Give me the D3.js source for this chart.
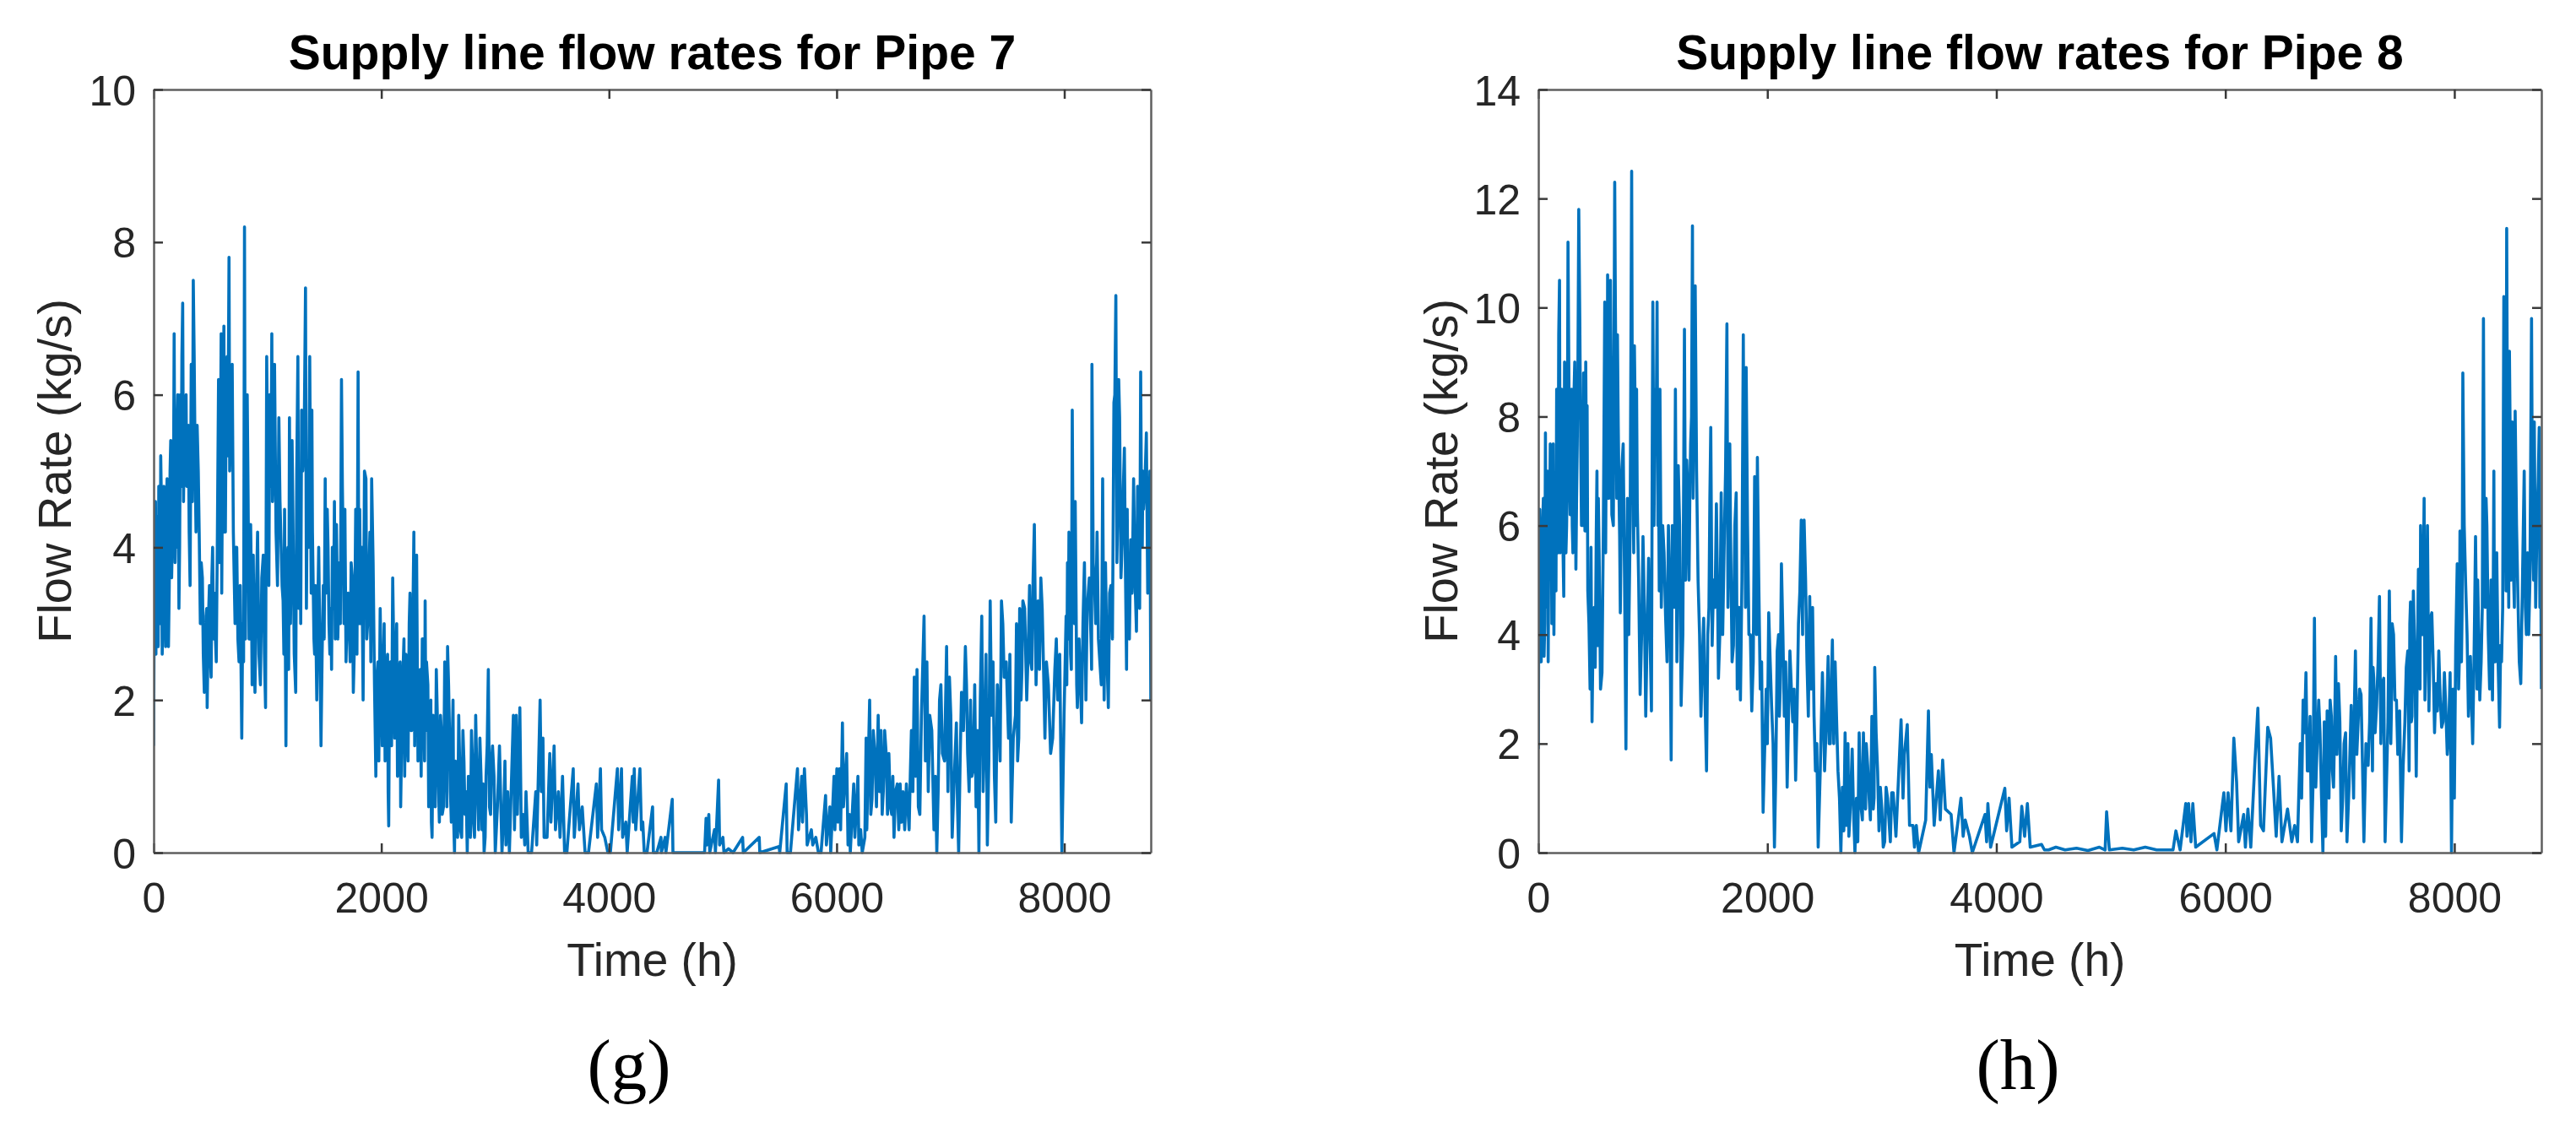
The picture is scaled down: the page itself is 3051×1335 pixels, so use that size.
<!DOCTYPE html>
<html>
<head>
<meta charset="utf-8">
<script src="https://cdn.jsdelivr.net/npm/d3@7"></script>
<style>
body { margin: 0; background: #fff; }
text { font-family: "Liberation Sans", Arial, sans-serif; }
</style>
</head>
<body>
<div id="graphDiv"></div>
<script>
// x axis ticks (hours) and y ticks for each panel
var xTicks = [0, 2000, 4000, 6000, 8000];
var yTicks7 = [0, 2, 4, 6, 8, 10];
var yTicks8 = [0, 2, 4, 6, 8, 10, 12, 14];

// Pipe 7: time (h) and flow rate (kg/s), peaks and troughs
var t7 = [0,8,20,30,40,62,75,90,105,118,130,150,165,180,195,205,222,235,255,270,285,295,320,348,365,382,400,428,445,460,470,490,505,518,535,550,570,585,593,605,617,630,645,662,675,690,715,730,750,774,790,798,815,830,845,852,865,875,890,913,938,963,983,993,1005,1020,1030,1038,1050,1062,1075,1100,1120,1137,1150,1162,1180,1193,1210,1223,1248,1267,1285,1300,1310,1334,1350,1371,1384,1395,1408,1420,1433,1440,1470,1490,1507,1520,1525,1540,1557,1570,1582,1595,1606,1630,1650,1665,1680,1700,1717,1735,1754,1775,1796,1810,1828,1840,1865,1880,1900,1915,1940,1952,1970,1990,2015,2025,2040,2055,2065,2080,2100,2125,2135,2150,2165,2175,2199,2224,2245,2260,2286,2300,2310,2335,2360,2375,2385,2397,2421,2435,2446,2465,2483,2500,2520,2535,2557,2570,2582,2600,2615,2630,2643,2660,2680,2695,2717,2735,2755,2775,2792,2810,2829,2845,2866,2885,2903,2920,2940,2960,2977,3001,3020,3038,3060,3075,
  3086,3095,3110,3125,3160,3170,3185,3195,3217,3230,3246,3260,3271,3290,3320,3357,3365,3395,3405,3420,3430,3456,3480,3490,3518,3530,3555,3570,3592,3610,3630,3686,3695,3728,3740,3765,3790,3820,3889,3900,3925,3935,3963,3990,4012,4074,4085,4110,4120,4148,4160,4205,4213,4222,4235,4272,4285,4297,4310,4334,4383,4390,4420,4457,4460,4494,4500,4556,4562,4600,4840,4853,4860,4877,4885,4927,4935,4963,4972,5001,5010,5050,5090,5174,5180,5320,5325,5495,5500,5557,5565,5594,5656,5665,5693,5700,5717,5735,5741,5778,5790,5817,5840,5863,5903,5910,5940,5948,5977,5985,6002,6010,6026,6035,6051,6060,6088,6100,6113,6120,6150,6160,6187,6195,6211,6225,6248,6259,6265,6290,6300,
  6311,6336,6365,6390,6410,6435,6459,6484,6504,6533,6558,6583,6613,6637,6657,6682,6706,6731,6768,6793,6818,6855,6880,6904,6929,6966,6991,7015,7052,7072,7097,7131,7151,7176,7201,7225,7250,7275,7300,7324,7349,7374,7398,7425,7448,7472,7510,7534,7571,7590,7608,7620,7636,7670,7695,7715,7737,7769,7794,7818,7843,7880,7917,7942,7979,8016,8028,8041,8055,8070,8090,8103,8115,8152,8177,8201,8238,8243,8265,8288,8325,8337,8362,8387,8410,8436,8453,8470,8486,8510,8528,8547,8560,8584,8609,8634,8654,8671,8685,8696,8721,8745,8752,8760];
var q7 = [1.4,4.5,2.6,4.4,2.7,5.2,2.6,4.8,2.7,4.9,2.7,5.4,4.2,6.8,4.5,5.5,3.2,6.0,7.2,5.5,6.0,5.3,3.5,7.5,5.0,5.6,4.2,3.6,2.1,3.1,1.9,3.5,2.3,4.0,3.4,2.5,6.2,5.0,6.8,5.2,6.9,4.2,6.5,7.8,5.5,6.4,3.0,4.0,2.5,1.5,2.5,8.2,5.0,4.6,2.8,4.3,2.2,3.9,2.1,4.2,2.2,3.9,1.9,6.5,4.5,6.0,4.8,6.8,5.0,6.4,4.2,5.7,4.0,3.3,4.5,1.4,4.0,5.7,4.0,4.5,2.1,6.5,4.5,5.8,5.0,7.4,5.0,6.5,3.4,4.2,2.8,3.5,2.0,3.0,1.4,3.5,4.9,3.5,4.5,3.0,3.2,4.0,3.5,2.8,4.3,3.8,6.2,4.0,4.5,3.2,3.0,3.8,2.1,4.5,6.3,4.5,4.0,2.0,4.9,3.0,4.2,4.9,2.2,1.0,2.5,3.2,2.4,3.0,1.5,2.6,0.35,2.5,3.6,2.3,3.0,1.2,2.5,1.1,2.8,1.7,3.0,1.6,4.2,2.5,3.9,1.5,2.8,1.8,3.3,2.5,0.8,2.0,0.2,1.5,2.4,1.0,1.8,0.5,2.5,1.2,2.7,1.5,0.4,2.0,0.0,0.8,1.8,0.3,1.6,0.5,0.0,0.6,1.6,0.4,1.8,0.8,1.5,0.3,0.0,1.0,2.4,0.5,1.4,0.0,0.6,1.4,0.0,0.5,
  1.2,0.1,0.8,0.0,1.8,0.3,1.8,0.5,1.9,0.2,0.5,0.1,0.8,0.0,0.0,0.8,0.1,2.0,0.8,1.5,0.2,0.2,1.3,0.4,1.4,0.3,0.8,0.2,1.0,0.0,0.0,1.1,0.2,0.9,0.3,0.6,0.0,0.0,0.9,0.2,1.1,0.3,0.2,0.0,0.0,1.1,0.3,1.1,0.2,0.4,0.0,1.0,0.4,1.1,0.3,1.1,0.3,0.4,0.0,0.0,0.6,0.0,0.0,0.2,0.0,0.2,0.0,0.7,0.0,0.0,0.0,0.45,0.1,0.5,0.0,0.3,0.0,0.95,0.1,0.2,0.0,0.05,0.0,0.2,0.0,0.2,0.0,0.08,0.0,0.9,0.0,0.0,1.1,0.3,1.0,0.4,1.1,0.5,0.1,0.3,0.1,0.2,0.0,0.0,0.75,0.1,0.6,0.0,1.0,0.3,1.1,0.4,1.1,0.3,1.7,0.6,1.3,0.1,0.5,0.0,0.9,0.2,1.0,0.1,0.3,0.0,0.2,1.5,0.3,2.0,0.5,
  0.7,1.3,1.8,1.6,0.8,1.3,1.3,0.5,0.2,0.9,0.9,0.8,0.9,0.3,1.6,2.3,2.4,0.5,3.1,2.5,1.8,0.3,0.0,2.0,1.3,2.7,2.3,0.2,1.7,0.0,2.1,2.7,1.3,2.0,1.1,0.6,0.0,3.1,1.5,0.1,3.3,2.5,0.4,1.8,3.3,2.3,1.5,0.4,1.8,1.2,3.2,2.0,3.3,2.0,3.5,2.4,4.3,3.3,3.6,2.4,2.5,1.3,2.4,2.0,0.0,3.1,3.8,4.2,2.6,5.8,3.0,3.4,1.9,1.7,3.8,3.2,2.6,6.4,3.5,4.2,2.2,4.9,3.8,1.9,3.5,5.9,7.3,4.5,5.7,4.1,5.3,2.4,3.0,4.1,4.9,2.9,4.0,6.3,4.0,4.5,5.5,4.2,5.0,2.0];

// Pipe 7: in-between hourly swings inside the dense bands
var t7b = [4,11,16,24,34,45,52,57,68,81,86,97,110,113,124,137,144,158,172,188,199,212,228,242,248,262,277,290,305,312,330,340,356,372,392,410,418,436,452,466,480,497,511,527,543,560,578,598,611,623,638,652,668,683,700,722,740,760,782,806,822,838,858,882,900,925,950,973,1012,1025,1044,1056,1088,1110,1128,1144,1170,1186,1202,1216,1235,1257,1276,1292,1322,1342,1360,1390,1414,1450,1480,1498,1513,1532,1548,1563,1588,1618,1640,1658,1672,1690,1708,1726,1745,1765,1786,1803,1819,1852,1872,1890,1908,1928,
  1958,1978,1996,2008,2020,2033,2047,2060,2072,2090,2106,2118,2130,2142,2158,2170,2187,2205,2216,2235,2252,2266,2278,2293,2305,2322,2342,2350,2368,2380,2391,2409,2416,2428,2440,2455,2474,2492,2510,2527,2546,2563,2576,2591,2607,2622,2636,2651,2670,2688,2706,2726,2745,2765,2783,2801,2819,2837,2855,2876,2894,2912,2930,2950,2968,2990,
  6322,6350,6378,6400,6422,6447,6472,6494,6518,6546,6570,6598,6625,6647,6670,6694,6718,6745,6780,6805,6836,6868,6892,6916,6948,6978,7003,7034,7062,7085,7114,7141,7164,7188,7213,7238,7262,7287,7312,7337,7361,7386,7412,7436,7460,7490,7522,7552,7580,7600,7614,7628,7652,7682,7705,7726,7752,7782,7806,7830,7860,7898,7930,7960,7998,8022,8035,8048,8062,8080,8096,8109,8130,8164,8190,8220,8240,8254,8276,8300,8331,8350,8374,8398,8423,8444,8462,8478,8498,8519,8538,8553,8572,8596,8621,8644,8662,8678,8690,8708,8733];
var q7b = [3.0,2.8,4.6,4.2,3.0,4.8,3.0,3.2,4.6,3.0,4.5,4.6,3.0,4.6,4.8,3.5,5.0,3.6,4.0,3.8,4.0,6.0,4.0,4.8,6.5,4.6,5.2,4.8,5.6,4.2,6.4,4.6,6.5,4.2,5.0,3.0,3.8,2.6,2.2,3.2,3.0,2.6,3.6,2.8,2.8,4.2,3.8,3.4,5.8,4.2,6.2,5.2,5.0,6.0,4.2,4.0,2.8,3.5,3.0,2.8,6.0,2.8,3.6,2.8,3.2,2.6,3.6,2.6,3.5,5.5,4.6,5.5,3.5,4.6,3.5,2.6,3.8,2.4,3.0,5.4,2.6,5.0,3.2,3.0,5.4,3.2,4.0,5.8,2.6,4.0,2.6,2.8,3.4,4.0,2.6,2.4,4.6,2.8,3.0,4.8,3.0,2.5,3.4,2.5,3.6,2.8,2.6,3.0,3.0,5.0,2.8,3.6,2.5,3.8,
  2.2,1.2,2.6,1.4,2.6,1.2,2.4,0.8,2.2,1.4,3.0,1.5,2.6,1.0,2.4,0.6,2.2,1.0,2.6,1.2,3.4,1.6,3.2,1.4,3.0,1.2,2.4,1.0,2.8,1.2,1.6,2.2,0.6,1.6,0.4,1.8,0.6,1.8,0.4,1.6,0.6,2.0,0.6,2.2,0.8,1.4,0.4,1.2,0.2,1.2,0.2,1.2,0.8,1.0,0.2,1.2,0.2,1.2,0.3,1.0,0.9,0.2,1.4,0.6,1.2,1.0,
  1.6,0.6,0.8,0.5,1.6,0.5,0.6,1.0,0.8,0.3,0.4,0.3,0.6,1.0,0.8,1.0,0.6,1.8,1.2,0.8,1.6,1.0,0.8,2.2,1.2,0.8,1.8,1.0,0.6,1.2,1.6,2.2,0.8,1.0,2.2,1.6,2.0,0.8,2.6,1.2,1.8,1.0,2.2,1.2,3.0,2.5,2.6,1.5,3.0,1.5,2.0,2.4,3.2,2.6,2.5,3.6,2.2,2.4,3.2,1.5,2.2,1.5,2.8,2.6,1.8,2.2,2.8,4.0,2.4,3.2,4.6,2.2,2.8,3.0,2.0,3.6,2.4,3.8,3.0,2.8,3.4,2.0,2.6,3.4,2.8,6.0,3.8,6.2,3.6,4.8,3.6,4.5,2.8,3.4,3.6,4.8,3.2,4.6,5.0,4.8,3.4];

// Pipe 8: time (h) and flow rate (kg/s), peaks and troughs
var t8 = [0,6,12,25,37,50,62,75,86,98,111,125,136,148,160,172,185,198,210,222,235,247,259,272,284,296,309,328,340,353,370,383,395,407,420,432,452,469,488,506,518,531,556,580,595,605,617,630,642,667,680,691,705,716,741,765,790,815,827,839,852,864,889,914,938,963,988,1000,1020,1037,1050,1062,1086,1111,1136,1160,1180,1197,1222,1247,1276,1296,1316,1330,1346,1358,1370,1395,1420,1444,1469,1490,1506,1531,1555,1573,1597,1622,1647,1665,1679,1704,1728,1745,1765,1790,1803,1815,1839,1864,1889,1900,1913,1938,1963,1990,2012,2037,2062,2086,2105,2123,2148,2173,2197,2222,2247,2272,2296,2308,2321,2346,2370,2395,2420,2444,2481,2500,2531,2550,2568,2592,2617,2642,2679,2690,2704,2720,2741,2765,2802,2820,2839,2850,2864,2889,2913,2925,2938,2963,2987,3012,3037,3062,3086,
  3099,3123,3168,3185,3197,3222,3242,3272,3285,3301,3321,3383,3407,3420,3432,3457,3494,3510,3531,3555,3605,3630,3691,3710,3728,3765,3790,3901,3915,3926,3950,4074,4090,4111,4136,4205,4222,4247,4271,4296,4395,4420,4457,4520,4600,4700,4800,4900,4950,4963,4987,5100,5200,5300,5400,5543,5568,5605,5654,5665,5679,5700,5716,5741,5901,5926,5987,6005,6024,6049,6074,6098,6116,6160,6175,6197,6222,6259,6284,6308,6333,6370,
  6395,6420,6444,6469,6494,6543,6580,6605,6630,6654,6679,6704,6728,6753,6778,6802,6827,6852,6876,6889,6905,6926,6945,6963,6988,7012,7037,7062,7099,7120,7136,7160,7185,7210,7247,7272,7285,7296,7321,7346,7370,7395,7432,7445,7457,7481,7506,7538,7568,7593,7605,7617,7630,7642,7667,7686,7700,7711,7736,7750,7765,7790,7815,7839,7864,7889,7913,7938,7963,7975,8000,8025,8037,8049,8062,8074,8099,8123,8160,8185,8198,8210,8234,8254,8270,8284,8308,8333,8345,8358,8370,8395,8412,8432,8445,8457,8470,8481,8495,8506,8518,8531,8555,8580,8610,8629,8649,8674,8686,8698,8723,8741,8753,8760];
var q8 = [1.9,5.0,6.3,3.5,6.0,3.6,7.7,4.5,3.5,6.0,7.0,4.5,4.0,6.5,8.5,5.5,10.5,7.0,6.5,4.7,8.0,6.0,11.2,7.0,8.0,6.0,8.2,5.2,7.5,11.8,7.5,6.0,8.8,5.9,7.0,4.8,3.0,2.4,4.5,5.9,3.8,5.5,3.3,10.1,8.5,10.6,6.5,10.5,6.2,12.3,8.0,9.5,6.5,4.4,7.5,1.9,4.0,12.5,7.0,9.3,6.0,6.4,2.9,5.8,2.5,5.4,2.6,10.1,8.5,10.1,7.0,8.5,6.0,4.35,6.0,1.7,5.0,8.5,7.1,2.7,9.6,7.2,5.0,7.5,11.5,8.0,10.4,5.0,2.5,4.3,1.5,4.5,7.8,5.0,6.4,3.2,6.6,5.5,9.7,6.5,5.8,3.8,6.6,4.5,2.8,9.5,6.5,8.9,4.0,2.6,6.9,4.5,7.25,3.0,0.74,3.0,4.4,2.7,0.1,3.7,2.5,5.3,2.5,1.2,3.7,2.4,1.33,4.2,6.1,4.0,6.1,3.5,4.7,4.5,1.5,0.1,3.3,1.5,3.6,2.0,3.9,3.5,1.5,0.0,2.2,0.5,2.0,0.6,1.9,0.0,2.2,0.8,2.2,1.0,2.0,1.0,2.5,0.8,3.4,1.5,1.2,0.1,1.2,0.6,1.1,
  1.1,0.3,2.44,1.0,1.8,2.35,0.5,0.5,0.1,0.5,0.0,0.6,2.6,1.2,1.8,0.5,1.5,0.6,1.7,0.8,0.7,0.0,1.0,0.3,0.6,0.3,0.0,0.7,0.2,0.9,0.1,1.18,0.4,1.0,0.1,0.2,0.85,0.3,0.9,0.1,0.15,0.05,0.05,0.1,0.05,0.08,0.04,0.1,0.05,0.75,0.05,0.08,0.05,0.1,0.05,0.05,0.4,0.05,0.9,0.3,0.9,0.2,0.9,0.1,0.35,0.05,1.1,0.4,1.1,0.4,2.1,1.3,0.2,0.7,0.1,0.8,0.1,1.7,2.65,0.5,0.4,2.3,
  2.1,1.2,0.3,1.4,0.2,0.8,0.2,0.5,0.2,2.0,2.8,3.3,1.5,0.2,4.3,2.0,2.2,0.0,0.3,2.6,1.0,2.5,1.2,3.6,3.1,0.4,2.0,0.2,2.7,1.0,3.7,2.4,2.9,0.2,1.6,4.3,1.5,3.2,2.7,4.7,3.1,0.2,4.8,2.0,4.2,2.8,1.8,0.2,2.4,3.7,1.5,4.6,2.5,4.8,1.4,5.2,3.0,5.1,6.5,3.5,6.0,4.3,3.5,3.1,3.7,2.3,3.3,1.8,3.3,0.0,1.0,5.3,3.0,5.9,3.5,8.8,4.9,2.5,2.0,5.8,3.0,4.3,3.5,9.8,4.5,6.0,3.0,2.8,7.0,3.5,5.5,2.3,3.5,10.2,6.5,11.45,6.0,9.2,5.0,7.9,5.0,8.1,4.7,3.1,7.0,4.0,4.0,9.8,5.5,7.9,6.2,7.8,6.0,3.0];

// Pipe 8: in-between hourly swings inside the dense bands
var t8b = [4,18,31,44,56,68,80,92,104,118,130,142,154,166,178,191,204,216,229,241,253,266,278,290,302,318,334,346,362,377,389,401,414,426,442,460,478,497,512,524,543,568,588,600,611,623,636,655,673,685,698,710,728,753,778,802,821,833,846,858,876,902,926,950,975,994,1010,1028,1044,1056,1074,1098,1124,1148,1170,1188,1210,1234,1262,1286,1306,1323,1338,1352,1364,1382,1408,1432,1456,1480,1498,1518,1543,1564,1585,1610,1635,1656,1672,1692,1716,1737,1755,1778,1797,1809,1827,1852,1877,1895,1906,1925,1950,
  2000,2025,2050,2074,2098,2112,2136,2160,2185,2210,2234,2259,2284,2308,2334,2358,2383,2408,2432,2462,2490,2515,2540,2558,2580,2604,2630,
  2655,2668,2698,2712,2730,2752,2778,2790,2812,2830,2845,2858,2876,2900,2919,2932,2950,2975,3000,3025,3050,3074,
  6666,6691,6716,6740,6765,6790,6815,6840,6864,6898,6915,6935,6955,6975,7000,7025,7050,7080,7110,7128,7148,7172,7198,7228,7260,7278,7290,7308,7334,7358,7383,7420,7438,7450,7469,7494,7522,7553,7580,7599,7611,7624,7636,7655,7676,7694,7705,7724,7743,7758,7778,7803,7827,7852,7877,7901,7926,7950,7988,8012,8031,8043,8055,8068,8086,8111,8140,8172,8192,8204,8222,8244,8262,8277,8296,8320,8339,8351,8364,8382,8404,8422,8438,8451,8463,8475,8488,8500,8512,8524,8543,8567,8595,8620,8639,8660,8680,8692,8710,8732,8747];
var q8b = [4.5,4.0,4.2,6.5,4.2,5.0,7.0,6.2,7.5,4.2,7.5,6.0,4.8,8.0,9.5,5.5,8.5,5.5,9.0,5.5,7.0,9.0,6.2,8.5,5.5,9.0,6.5,9.0,9.8,6.0,6.0,8.0,9.0,8.2,4.2,5.6,4.0,3.4,7.0,6.5,3.0,6.0,5.5,6.5,8.0,7.0,8.5,6.0,10.0,6.5,7.8,5.8,7.0,5.0,6.5,6.0,8.0,5.5,8.0,8.5,5.0,4.0,4.5,4.0,4.0,7.0,6.0,7.5,6.0,4.8,4.5,5.5,3.5,4.8,6.0,4.5,3.5,6.0,4.0,5.0,6.5,6.5,8.0,6.5,7.5,7.0,4.0,3.5,2.8,4.0,6.5,3.8,4.5,5.0,4.0,4.0,7.0,4.5,7.5,3.5,6.0,3.0,4.5,5.0,6.5,4.5,6.0,4.0,3.5,5.5,4.0,5.0,3.5,
  2.0,3.5,2.0,1.5,4.0,3.0,4.0,3.5,2.5,3.0,3.0,2.5,4.8,4.5,5.0,2.5,3.0,2.5,2.0,1.5,2.6,2.4,2.0,3.0,2.0,2.5,1.0,
  1.2,0.4,1.4,0.3,1.2,0.8,1.0,0.2,1.4,0.6,1.6,0.8,1.6,0.6,2.0,1.0,2.2,0.4,0.8,0.2,1.0,0.2,
  1.0,2.2,1.5,2.5,1.2,1.2,2.8,1.0,2.4,1.6,2.8,1.5,2.4,1.8,2.4,1.0,2.2,1.2,1.8,2.8,1.8,3.0,1.6,2.0,2.4,2.8,3.4,2.2,3.5,2.0,3.2,2.4,3.8,2.6,4.0,2.8,2.6,1.6,3.4,2.6,4.2,2.4,3.8,3.6,3.4,4.5,6.0,4.0,2.8,4.2,2.6,4.4,2.2,2.6,2.8,2.4,2.6,2.2,3.0,3.8,4.8,3.5,4.5,4.5,6.0,4.0,3.6,3.6,4.5,5.0,2.8,4.5,5.5,6.5,4.0,5.0,4.6,3.5,4.8,3.5,3.8,4.5,7.0,4.8,8.0,4.5,7.5,6.0,6.5,4.5,6.0,3.5,5.0,4.5,5.5,5.0,7.0,5.0,4.5,6.8,4.5];

var W = 3051, H = 1335;

var svg = d3.select("#graphDiv")
  .append("svg")
  .attr("width", W)
  .attr("height", H)
  .style("background", "#fff");

// join the two readings of a series into one time-ordered list
function series(ta, qa, tb, qb) {
  var pts = ta.map(function(d, i) { return [d, qa[i]]; })
    .concat(tb.map(function(d, i) { return [d, qb[i]]; }));
  pts.sort(function(a, b) { return a[0] - b[0]; });
  return pts;
}

function drawPanel(opt) {
  var left = opt.left, right = opt.right, top = 106, bottom = 1010;

  var x = d3.scaleLinear().domain([0, 8760]).range([left, right]);
  var y = d3.scaleLinear().domain([0, opt.ymax]).range([bottom, top]);

  var g = svg.append("g");
  var clipId = "clip" + opt.id;
  g.append("clipPath").attr("id", clipId)
    .append("rect")
    .attr("x", left).attr("y", top - 2)
    .attr("width", right - left).attr("height", bottom - top + 4);

  var line = d3.line()
    .x(function(d) { return x(d[0]); })
    .y(function(d) { return y(d[1]); });

  g.append("path")
    .datum(opt.data)
    .attr("clip-path", "url(#" + clipId + ")")
    .attr("fill", "none")
    .attr("stroke", "#0072BD")
    .attr("stroke-width", 3.6)
    .attr("stroke-linejoin", "round")
    .attr("d", line);

  // box with inward ticks on all four sides
  var axB = g.append("g").attr("transform", "translate(0," + bottom + ")")
    .call(d3.axisBottom(x).tickValues(xTicks).tickFormat(d3.format("d"))
      .tickSizeInner(-11).tickSizeOuter(0).tickPadding(35));
  var axT = g.append("g").attr("transform", "translate(0," + top + ")")
    .call(d3.axisTop(x).tickValues(xTicks).tickSizeInner(-11).tickSizeOuter(0).tickFormat(""));
  var axL = g.append("g").attr("transform", "translate(" + left + ",0)")
    .call(d3.axisLeft(y).tickValues(opt.yTicks).tickSizeInner(-11).tickSizeOuter(0).tickPadding(21));
  var axR = g.append("g").attr("transform", "translate(" + right + ",0)")
    .call(d3.axisRight(y).tickValues(opt.yTicks).tickSizeInner(-11).tickSizeOuter(0).tickFormat(""));

  [axB, axT, axL, axR].forEach(function(a) {
    a.select(".domain").attr("stroke", "#5f5f5f").attr("stroke-width", 2.5);
    a.selectAll(".tick line").attr("stroke", "#3a3a3a").attr("stroke-width", 2.5);
    a.selectAll(".tick text")
      .attr("fill", "#262626")
      .style("font-family", "'Liberation Sans', Arial, sans-serif")
      .style("font-size", "50px");
  });
  axL.selectAll(".tick text").attr("dy", "0.36em");

  var cx = (left + right) / 2;

  g.append("text")
    .attr("x", cx).attr("y", 82)
    .attr("text-anchor", "middle")
    .attr("fill", "#000")
    .style("font-size", "57px")
    .style("font-weight", "bold")
    .text(opt.title);

  g.append("text")
    .attr("x", cx).attr("y", 1156)
    .attr("text-anchor", "middle")
    .attr("fill", "#262626")
    .style("font-size", "55px")
    .text("Time (h)");

  g.append("text")
    .attr("transform", "translate(" + opt.labX + "," + ((top + bottom) / 2) + ")rotate(-90)")
    .attr("text-anchor", "middle")
    .attr("fill", "#262626")
    .style("font-size", "56px")
    .text("Flow Rate (kg/s)");

  g.append("text")
    .attr("x", opt.capX).attr("y", 1290)
    .attr("text-anchor", "middle")
    .attr("fill", "#000")
    .style("font-family", "'Liberation Serif', 'DejaVu Serif', serif")
    .style("font-size", "85px")
    .text(opt.cap);
}

drawPanel({id: 7, left: 182, right: 1363, ymax: 10, yTicks: yTicks7, labX: 84,
  data: series(t7, q7, t7b, q7b),
  title: "Supply line flow rates for Pipe 7", cap: "(g)", capX: 745});
drawPanel({id: 8, left: 1822, right: 3010, ymax: 14, yTicks: yTicks8, labX: 1726,
  data: series(t8, q8, t8b, q8b),
  title: "Supply line flow rates for Pipe 8", cap: "(h)", capX: 2390});
</script>
</body>
</html>
